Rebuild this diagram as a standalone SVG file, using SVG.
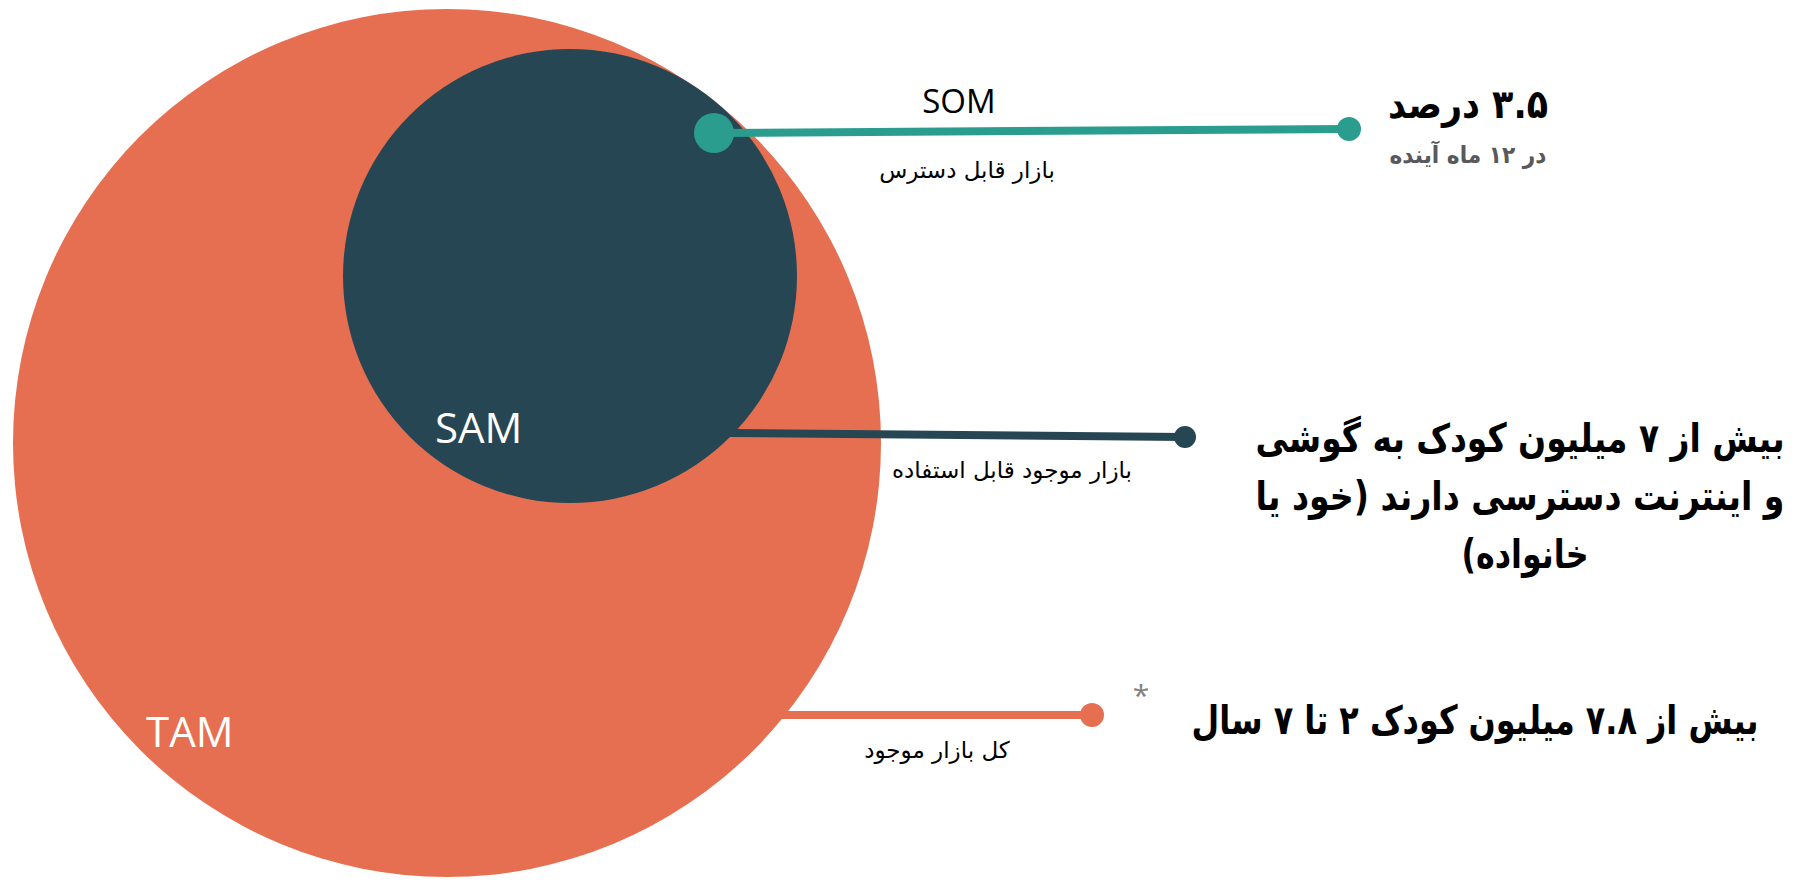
<svg xmlns="http://www.w3.org/2000/svg" width="1805" height="882" viewBox="0 0 1805 882">
  <style>
    .lat { font-family: "Open Sans", "Noto Sans", "DejaVu Sans", sans-serif; }
    .fa { font-family: "DejaVu Sans", "Noto Sans", sans-serif; direction: rtl; unicode-bidi: embed; }
    .big { font-size: 40px; font-weight: bold; fill: #000000; }
    .lbl { font-size: 23px; fill: #000000; }
    .circle-label { font-size: 42px; fill: #ffffff; }
  </style>
  <rect x="0" y="0" width="1805" height="882" fill="#ffffff"/>

  <g id="tam">
    <circle cx="447" cy="443" r="434" fill="#E76F51"/>
    <text class="lat circle-label" x="146" y="747">TAM</text>
  </g>

  <g id="sam">
    <circle cx="570" cy="276" r="227" fill="#264653"/>
    <text class="lat circle-label" x="435" y="443">SAM</text>
  </g>

  <g id="connectors">
    <line x1="714" y1="133" x2="1349" y2="129" stroke="#2A9D8F" stroke-width="8"/>
    <circle cx="714" cy="133" r="20" fill="#2A9D8F"/>
    <circle cx="1349" cy="129" r="12" fill="#2A9D8F"/>
    <line x1="730" y1="433" x2="1185" y2="437" stroke="#264653" stroke-width="8"/>
    <circle cx="1185" cy="437" r="11" fill="#264653"/>
    <line x1="780" y1="715" x2="1092" y2="715" stroke="#E76F51" stroke-width="8"/>
    <circle cx="1092" cy="715" r="12" fill="#E76F51"/>
  </g>

  <g id="som">
    <text class="lat" x="959" y="113" font-size="33" text-anchor="middle" fill="#000000">SOM</text>
    <text class="fa lbl" x="967" y="178" text-anchor="middle">بازار قابل دسترس</text>
    <text class="fa big" x="1468" y="118" text-anchor="middle" textLength="160" lengthAdjust="spacingAndGlyphs">۳.۵ درصد</text>
    <text class="fa" x="1468" y="163" text-anchor="middle" font-size="24" font-weight="bold" fill="#595959" textLength="157" lengthAdjust="spacingAndGlyphs">در ۱۲ ماه آینده</text>
  </g>

  <g id="sam-labels">
    <text class="fa lbl" x="1012" y="478" text-anchor="middle">بازار موجود قابل استفاده</text>
    <text class="fa big" x="1520" y="452" text-anchor="middle" textLength="529" lengthAdjust="spacingAndGlyphs">بیش از ۷ میلیون کودک به گوشی</text>
    <text class="fa big" x="1520" y="510" text-anchor="middle" textLength="529" lengthAdjust="spacingAndGlyphs">و اینترنت دسترسی دارند (خود یا</text>
    <text class="fa big" x="1525" y="568" text-anchor="middle" textLength="127" lengthAdjust="spacingAndGlyphs">خانواده)</text>
  </g>

  <g id="tam-labels">
    <text class="fa lbl" x="937" y="758" text-anchor="middle">کل بازار موجود</text>
    <text class="fa big" x="1475" y="734" text-anchor="middle" textLength="567" lengthAdjust="spacingAndGlyphs">بیش از ۷.۸ میلیون کودک ۲ تا ۷ سال</text>
    <text class="lat" x="1141" y="706" font-size="30" text-anchor="middle" fill="#7F7F7F">*</text>
  </g>
</svg>
